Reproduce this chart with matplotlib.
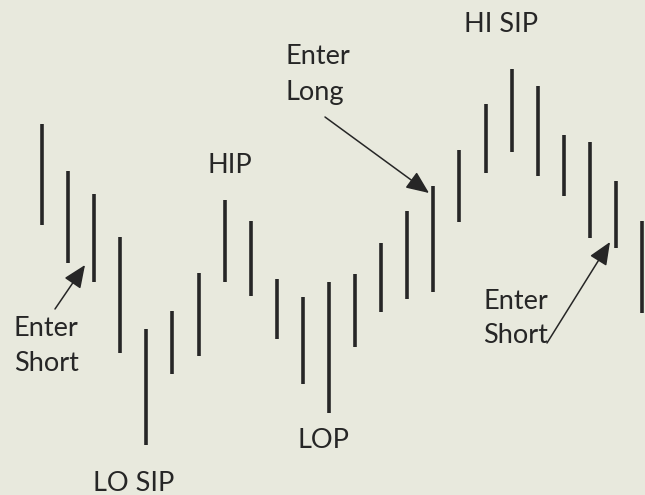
"""Swing bars with HIP/LOP and SIP markers, entry arrows"""
import matplotlib
matplotlib.use('Agg')
import matplotlib.pyplot as plt

BG = '#e8e9dd'
INK = '#262626'

# bar highs / lows in arbitrary price units (one bar per session)
highs = [371, 324, 301, 258, 166, 184, 222, 295, 274, 216, 198, 213,
         221, 252, 284, 309, 345, 391, 426, 409, 360, 353, 314, 274]
lows = [270, 232, 213, 142, 50, 121, 139, 213, 199, 156, 111, 82,
        148, 183, 196, 203, 273, 322, 343, 319, 299, 257, 247, 182]
bars = list(range(len(highs)))

# labels: (text, x, y, ha) in reference pixel space
labels = [
    ('HI SIP', 464, 32, 'left'),
    ('HIP', 207, 173, 'left'),
    ('LOP', 297, 448, 'left'),
    ('LO SIP', 93, 491, 'left'),
    ('Enter', 285, 64, 'left'),
    ('Long', 285, 100, 'left'),
    ('Enter', 14, 336, 'left'),
    ('Short', 14, 371, 'left'),
    ('Enter', 483, 309, 'left'),
    ('Short', 483, 343, 'left'),
]
# arrows: tail -> tip, reference pixel space
arrows = [
    ((55, 309), (85, 265)),
    ((325, 117), (429, 193)),
    ((547, 343), (610, 242)),
]

X0, DX, H = 42, 26.09, 495


def ref(px, py):
    """map reference pixel coords to data coords"""
    return (px - X0) / DX, H - py


fig = plt.figure(figsize=(6.45, 4.95), dpi=100)
fig.patch.set_facecolor(BG)
ax = fig.add_axes([0, 0, 1, 1])
ax.set_facecolor(BG)

ax.vlines(bars, lows, highs, colors=INK, linewidth=2.6)

for text, px, py, ha in labels:
    x, y = ref(px, py)
    ax.text(x, y, text, ha=ha, va='baseline', fontsize=19.5,
            family=['Lato', 'DejaVu Sans'], color=INK)

for tail, tip in arrows:
    ax.annotate('', xy=ref(*tip), xytext=ref(*tail),
                arrowprops=dict(arrowstyle='-|>,head_length=0.7,head_width=0.3',
                                lw=1.1, color=INK, shrinkA=0, shrinkB=0,
                                mutation_scale=20))

ax.set_xlim(-X0 / DX, (645 - X0) / DX)
ax.set_ylim(0, H)
ax.axis('off')

fig.savefig('out.png', dpi=100, facecolor=BG)
